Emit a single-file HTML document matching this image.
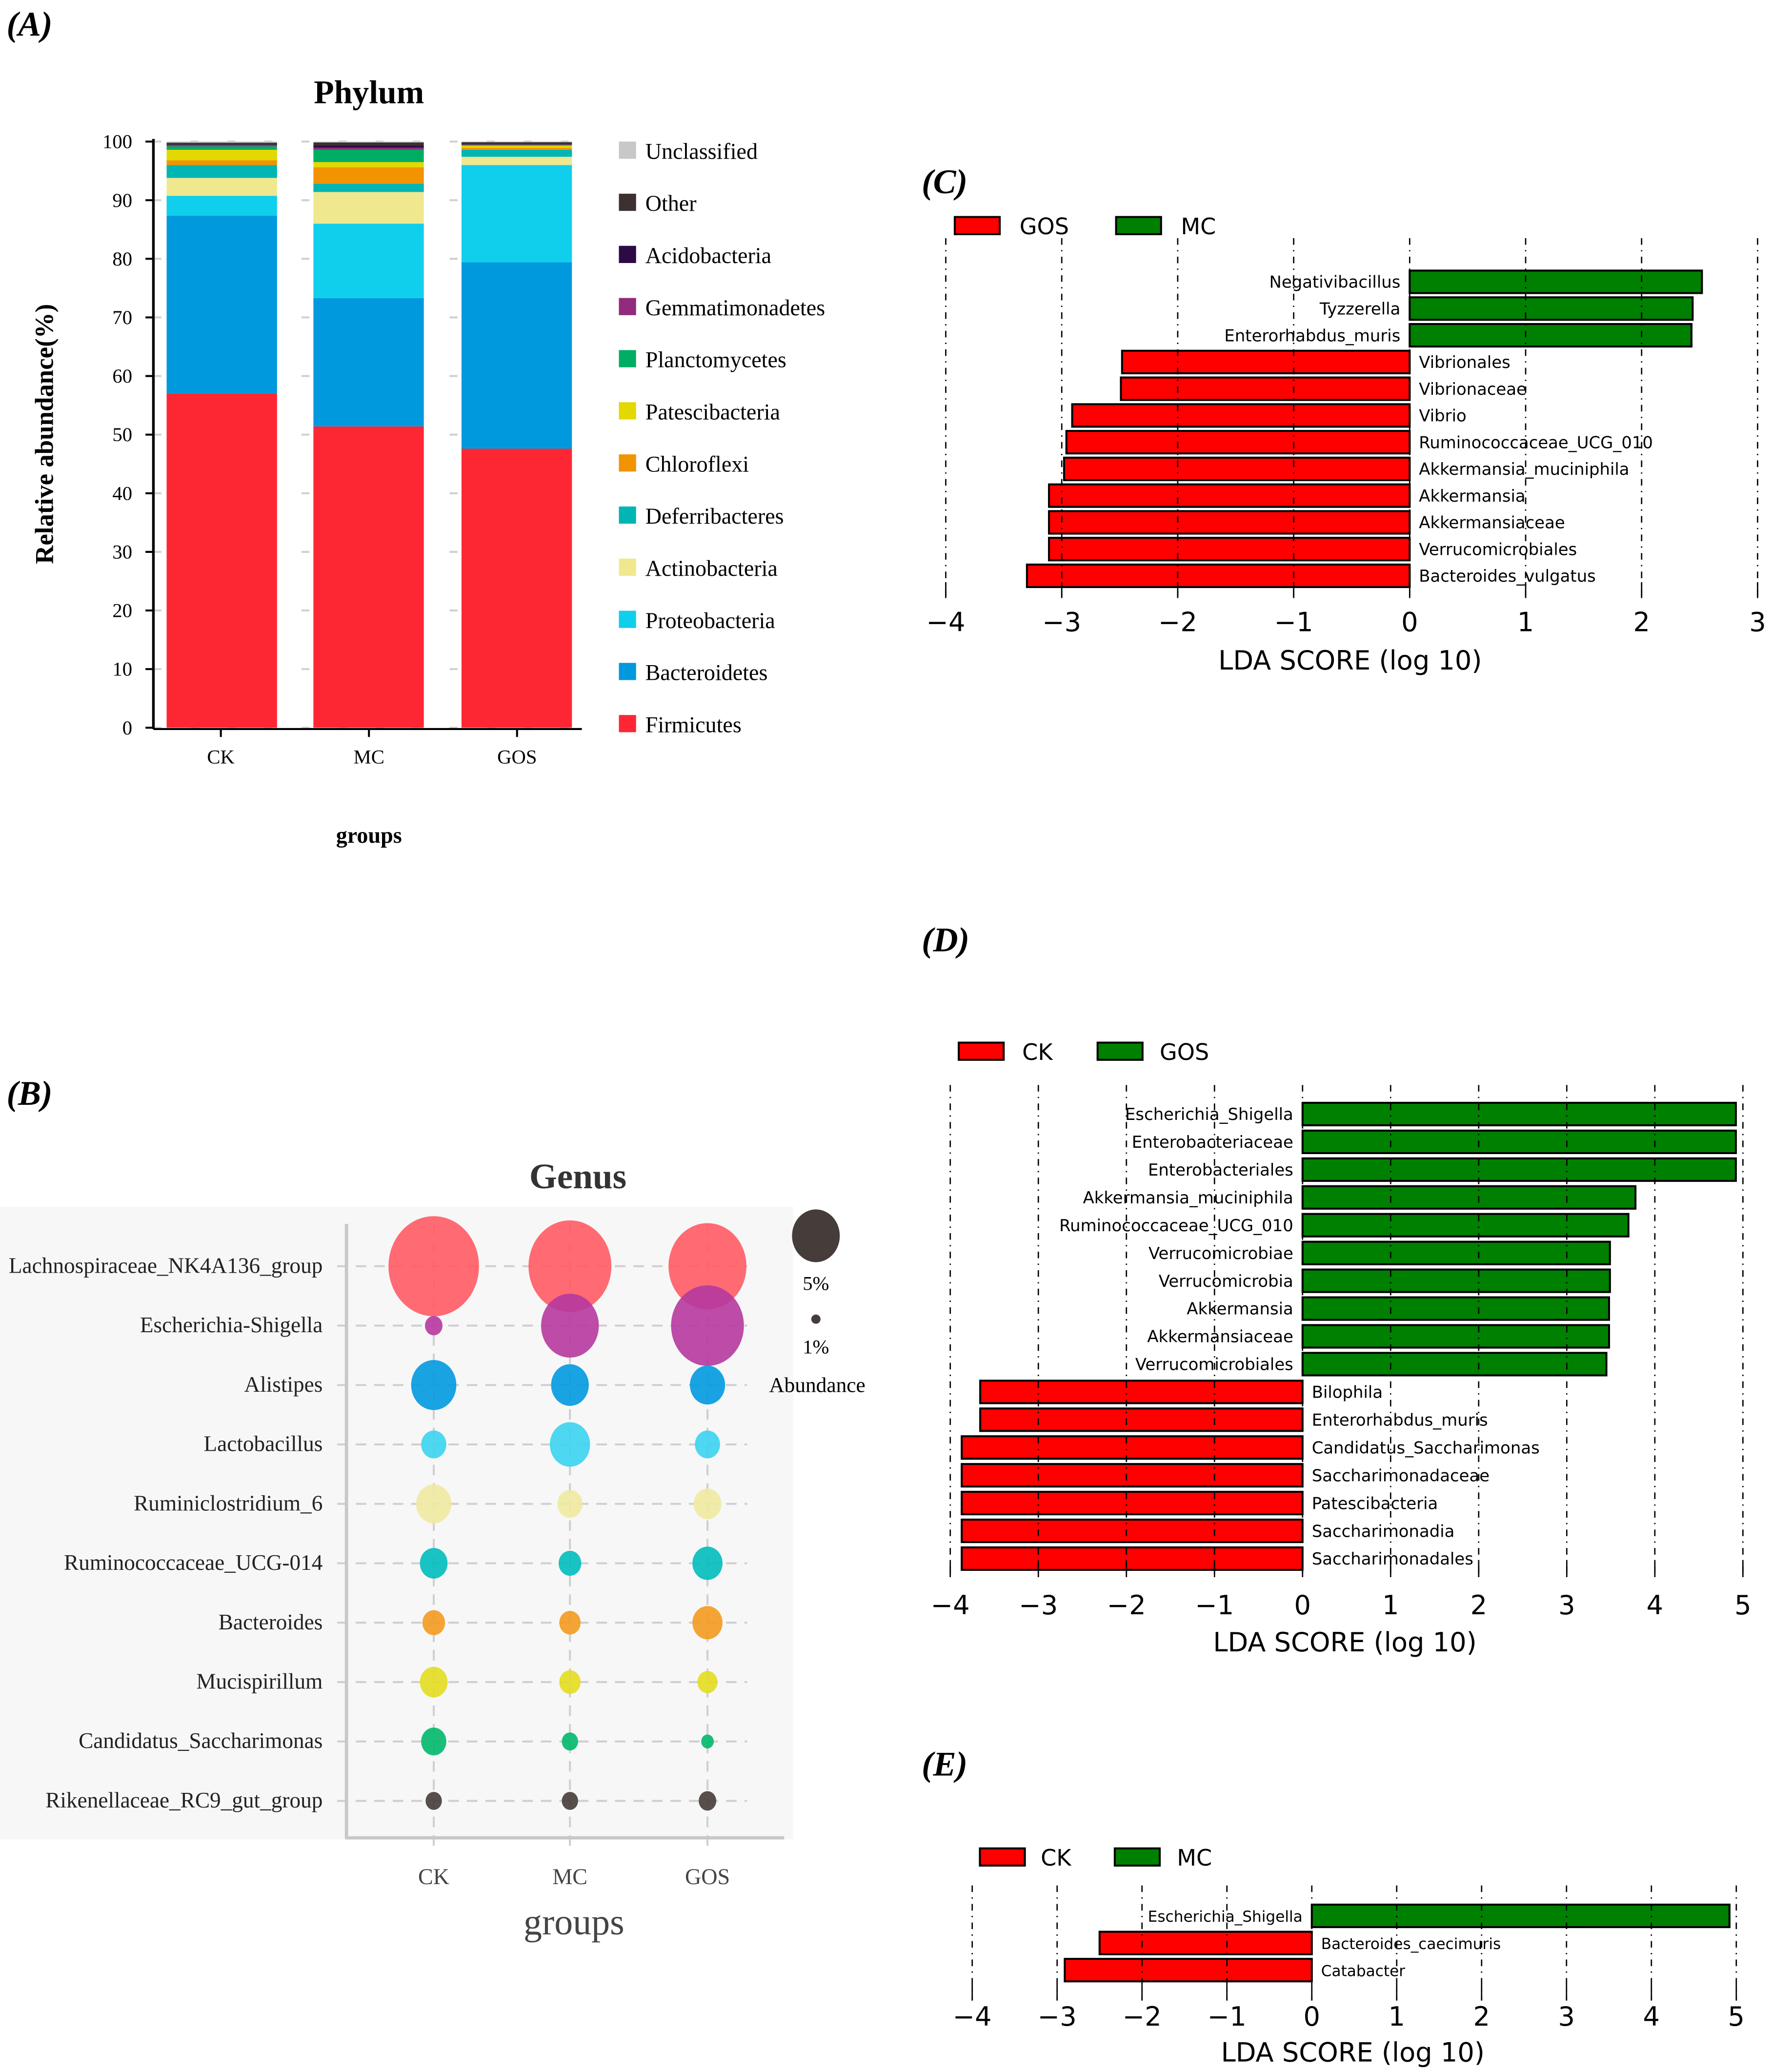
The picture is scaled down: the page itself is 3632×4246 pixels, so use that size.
<!DOCTYPE html>
<html><head><meta charset="utf-8"><style>
html,body{margin:0;padding:0;background:#fff;}
svg{display:block;}
.serif{font-family:"Liberation Serif","DejaVu Serif",serif;}
.sans{font-family:"DejaVu Sans","Liberation Sans",sans-serif;}
</style></head><body>
<svg id="fig" width="3632" height="4246" viewBox="0 0 1340 1566" preserveAspectRatio="none" xmlns="http://www.w3.org/2000/svg">
<rect width="1340" height="1566" fill="#fff"/>
<g id="pa"></g>
<g id="pb"></g>
<g id="pc"></g>
<g id="pd"></g>
<g id="pe"></g>
</svg>
<script>
// ---------- Panel A data ----------
const phylumGroups = ["CK","MC","GOS"];
const phylumNames = ["Firmicutes","Bacteroidetes","Proteobacteria","Actinobacteria","Deferribacteres","Chloroflexi","Patescibacteria","Planctomycetes","Gemmatimonadetes","Acidobacteria","Other","Unclassified"];
const phylumColors = ["#fd2734","#0099dd","#10cfec","#efe88f","#00b5b4","#f29300","#e3d800","#00ad64","#922a7d","#2d0a45","#3c3030","#c8c8c8"];
const phylumCK  = [57.0,30.35,3.4,3.05,2.2,0.8,1.8,0.6,0.2,0.1,0.3,0.2];
const phylumMC  = [51.4,21.9,12.7,5.4,1.4,2.8,0.9,2.1,0.35,0.35,0.55,0.15];
const phylumGOS = [47.6,31.8,16.6,1.4,1.2,0.35,0.35,0.1,0.05,0.05,0.4,0.1];
const phylumTicks = [0,10,20,30,40,50,60,70,80,90,100];

// ---------- Panel B data ----------
const genusNames = ["Lachnospiraceae_NK4A136_group","Escherichia-Shigella","Alistipes","Lactobacillus","Ruminiclostridium_6","Ruminococcaceae_UCG-014","Bacteroides","Mucispirillum","Candidatus_Saccharimonas","Rikenellaceae_RC9_gut_group"];
const genusColors = ["#ff5a64","#b5399e","#0099e0","#3ad3f0","#f0e9a0","#00bcbc","#f39a1e","#e3dc20","#00b86a","#463c3a"];
const genusGroups = ["CK","MC","GOS"];
const genusCK  = [9.39,1.90,4.74,2.68,3.71,2.94,2.42,2.94,2.68,1.77];
const genusMC  = [8.61,6.03,3.97,4.23,2.68,2.42,2.29,2.29,1.77,1.77];
const genusGOS = [8.10,7.58,3.71,2.68,2.94,3.19,3.19,2.16,1.39,1.90];

// ---------- Panel C/D/E data ----------
const ldaCNames = ["Negativibacillus","Tyzzerella","Enterorhabdus_muris","Vibrionales","Vibrionaceae","Vibrio","Ruminococcaceae_UCG_010","Akkermansia_muciniphila","Akkermansia","Akkermansiaceae","Verrucomicrobiales","Bacteroides_vulgatus"];
const ldaCValues = [2.52,2.44,2.43,-2.48,-2.49,-2.91,-2.96,-2.98,-3.11,-3.11,-3.11,-3.30];
const ldaCTicks = [-4,-3,-2,-1,0,1,2,3];
const ldaDNames = ["Escherichia_Shigella","Enterobacteriaceae","Enterobacteriales","Akkermansia_muciniphila","Ruminococcaceae_UCG_010","Verrucomicrobiae","Verrucomicrobia","Akkermansia","Akkermansiaceae","Verrucomicrobiales","Bilophila","Enterorhabdus_muris","Candidatus_Saccharimonas","Saccharimonadaceae","Patescibacteria","Saccharimonadia","Saccharimonadales"];
const ldaDValues = [4.92,4.92,4.92,3.78,3.70,3.49,3.49,3.48,3.48,3.45,-3.66,-3.66,-3.87,-3.87,-3.87,-3.87,-3.87];
const ldaDTicks = [-4,-3,-2,-1,0,1,2,3,4,5];
const ldaENames = ["Escherichia_Shigella","Bacteroides_caecimuris","Catabacter"];
const ldaEValues = [4.92,-2.50,-2.91];
const ldaETicks = [-4,-3,-2,-1,0,1,2,3,4,5];

const NS="http://www.w3.org/2000/svg";
function mk(parent,tag,attrs,text){
  const e=document.createElementNS(NS,tag);
  for(const k in attrs) e.setAttribute(k,attrs[k]);
  if(text!==undefined) e.textContent=text;
  parent.appendChild(e); return e;
}

// ===== Panel A =====
(function(){
  const g=document.getElementById('pa');
  const y0=550, y100=107, yS=v=>y0-(y0-y100)*v/100;
  const bx=[126,237,349], bw=83.5, cx=[167,279,391];
  let t=mk(g,'text',{x:5,y:27,'font-size':26,'font-weight':'bold','font-style':'italic',class:'serif'},'(A)');
   
  t=mk(g,'text',{x:279,y:78,'font-size':25,'font-weight':'bold','text-anchor':'middle',class:'serif'},'Phylum');
   
  phylumTicks.forEach(v=>{
    const l=mk(g,'line',{x1:116,x2:440,y1:yS(v),y2:yS(v),stroke:'#d0d0d0','stroke-width':1.5,'stroke-dasharray':'6 22'});
     
    const tk=mk(g,'line',{x1:110,x2:116,y1:yS(v),y2:yS(v),stroke:'#000','stroke-width':1.5});
     
    const lb=mk(g,'text',{x:100,y:yS(v)+5,'font-size':15,'text-anchor':'end',class:'serif'},String(v));
     
  });
  const ax=mk(g,'line',{x1:116,x2:116,y1:105,y2:551,stroke:'#000','stroke-width':2});
   
  const ax2=mk(g,'line',{x1:116,x2:440,y1:551,y2:551,stroke:'#000','stroke-width':1.5});
   
  const series=[phylumCK,phylumMC,phylumGOS];
  series.forEach((vals,gi)=>{
    let cum=0;
    vals.forEach((v,i)=>{
      const r=mk(g,'rect',{x:bx[gi],y:yS(cum+v),width:bw,height:yS(cum)-yS(cum+v),fill:phylumColors[i]});
      
      
      cum+=v;
    });
    const tk=mk(g,'line',{x1:cx[gi],x2:cx[gi],y1:551,y2:557,stroke:'#000','stroke-width':1.5});
     
    const lb=mk(g,'text',{x:cx[gi],y:577,'font-size':15,'text-anchor':'middle',class:'serif'},phylumGroups[gi]);
     
  });
  t=mk(g,'text',{x:0,y:0,'font-size':19.5,'font-weight':'bold','text-anchor':'middle',class:'serif',transform:'translate(40,328) rotate(-90)'},'Relative abundance(%)');
   
  t=mk(g,'text',{x:279,y:637,'font-size':17,'font-weight':'bold','text-anchor':'middle',class:'serif'},'groups');
   
  for(let k=0;k<phylumNames.length;k++){
    const i=phylumNames.length-1-k, y=114+k*39.4;
    const s=mk(g,'rect',{x:468,y:y-7,width:13,height:13,fill:phylumColors[i]});
     
    const lt=mk(g,'text',{x:488,y:y+6,'font-size':17,class:'serif'},phylumNames[i]);
     
  }
})();

// ===== Panel B =====
(function(){
  const g=document.getElementById('pb');
  const bg=mk(g,'rect',{x:0,y:912,width:600,height:478,fill:'#f7f7f7'});
   
  let t=mk(g,'text',{x:5,y:835,'font-size':26,'font-weight':'bold','font-style':'italic',class:'serif'},'(B)');
   
  t=mk(g,'text',{x:437,y:898,'font-size':27,'font-weight':'bold','text-anchor':'middle',class:'serif',fill:'#333'},'Genus');
   
  const colX=[328,431,535], rowY=i=>957+i*44.9;
  const rS=a=>3.5+(a-1)*15.5/4;
  genusNames.forEach((n,i)=>{
    const l=mk(g,'line',{x1:255,x2:565,y1:rowY(i),y2:rowY(i),stroke:'#cfcfcf','stroke-width':1.5,'stroke-dasharray':'8 6'});
     
    const lb=mk(g,'text',{x:244,y:rowY(i)+5,'font-size':16.7,'text-anchor':'end',class:'serif',fill:'#222'},n);
     
  });
  colX.forEach((x,j)=>{
    const l=mk(g,'line',{x1:x,x2:x,y1:925,y2:1395,stroke:'#cfcfcf','stroke-width':1.5,'stroke-dasharray':'8 6'});
     
    const lb=mk(g,'text',{x:x,y:1424,'font-size':17,'text-anchor':'middle',class:'serif',fill:'#444'},genusGroups[j]);
     
  });
  const a1=mk(g,'line',{x1:262,x2:262,y1:925,y2:1389,stroke:'#c8c8c8','stroke-width':2.5});
   
  const a2=mk(g,'line',{x1:261,x2:593,y1:1389,y2:1389,stroke:'#c8c8c8','stroke-width':2.5});
   
  [genusCK,genusMC,genusGOS].forEach((vals,j)=>{
    vals.forEach((v,i)=>{
      const r=rS(v);
      const c=mk(g,'ellipse',{cx:colX[j],cy:rowY(i),rx:r*0.95,ry:r*1.05,fill:genusColors[i],'fill-opacity':0.9});
      
      
    });
  });
  t=mk(g,'text',{x:434,y:1462,'font-size':28,'text-anchor':'middle',class:'serif',fill:'#444'},'groups');
   
  let c=mk(g,'ellipse',{cx:617,cy:934,rx:rS(5)*0.95,ry:rS(5)*1.05,fill:'#463c3a'});
   
  t=mk(g,'text',{x:617,y:975,'font-size':15,'text-anchor':'middle',class:'serif'},'5%');
   
  c=mk(g,'circle',{cx:617,cy:997,r:rS(1),fill:'#463c3a'});
   
  t=mk(g,'text',{x:617,y:1023,'font-size':15,'text-anchor':'middle',class:'serif'},'1%');
   
  t=mk(g,'text',{x:618,y:1052,'font-size':16,'text-anchor':'middle',class:'serif'},'Abundance');
   
})();

// ===== LDA panels =====
function lda(id,opt,names,values,ticks){
  const g=document.getElementById(id);
  const xS=v=>opt.x0+v*opt.unit;
  let t=mk(g,'text',{x:697,y:opt.labelY,'font-size':26,'font-weight':'bold','font-style':'italic',class:'serif'},opt.label);
   
  const s1=mk(g,'rect',{x:opt.leg[0],y:opt.legY-7,width:34,height:13,fill:'#ff0000',stroke:'#000','stroke-width':1.5});
   
  t=mk(g,'text',{x:opt.leg[1],y:opt.legY+6,'font-size':17,class:'sans'},opt.names[0]);
   
  const s2=mk(g,'rect',{x:opt.leg[2],y:opt.legY-7,width:34,height:13,fill:'#008000',stroke:'#000','stroke-width':1.5});
   
  t=mk(g,'text',{x:opt.leg[3],y:opt.legY+6,'font-size':17,class:'sans'},opt.names[1]);
   
  const rowY=i=>opt.row0+i*opt.step;
  names.forEach((n,i)=>{
    const v=values[i], y=rowY(i);
    const x1=Math.min(xS(0),xS(v)), w=Math.abs(xS(v)-xS(0));
    const r=mk(g,'rect',{x:x1,y:y-opt.bh/2,width:w,height:opt.bh,fill:v>=0?'#008000':'#ff0000',stroke:'#000','stroke-width':1.5});
     
    const lb=mk(g,'text',{x:v>=0?xS(0)-7:xS(0)+7,y:y+4.5,'font-size':opt.fs,'text-anchor':v>=0?'end':'start',class:'sans'},n);
     
  });
  ticks.forEach(v=>{
    const l=mk(g,'line',{x1:xS(v),x2:xS(v),y1:opt.gTop,y2:opt.gBot,stroke:'#000','stroke-width':1,'stroke-dasharray':'5 4 1 4'});
     
    const tk=mk(g,'line',{x1:xS(v),x2:xS(v),y1:opt.gBot-12,y2:opt.gBot,stroke:'#000','stroke-width':1});
     
    const lb=mk(g,'text',{x:xS(v),y:opt.tickY,'font-size':20,'text-anchor':'middle',class:'sans'},v<0?'\u2212'+Math.abs(v):String(v));
     
  });
  t=mk(g,'text',{x:opt.titleX,y:opt.titleY,'font-size':20,'text-anchor':'middle',class:'sans'},'LDA SCORE (log 10)');
   
}
lda('pc',{x0:1066,unit:87.7,label:'(C)',labelY:146,names:['GOS','MC'],leg:[722,771,844,893],legY:171,row0:213,step:20.2,bh:17,fs:12.5,gTop:180,gBot:452,tickY:477,titleX:1021,titleY:506},ldaCNames,ldaCValues,ldaCTicks);
lda('pd',{x0:985,unit:66.6,label:'(D)',labelY:719,names:['CK','GOS'],leg:[725,773,830,877],legY:795,row0:842,step:21.0,bh:17,fs:12.5,gTop:820,gBot:1192,tickY:1220,titleX:1017,titleY:1248},ldaDNames,ldaDValues,ldaDTicks);
lda('pe',{x0:992,unit:64.2,label:'(E)',labelY:1342,names:['CK','MC'],leg:[741,787,843,890],legY:1404,row0:1448,step:20.5,bh:17,fs:11.5,gTop:1425,gBot:1512,tickY:1531,titleX:1023,titleY:1558},ldaENames,ldaEValues,ldaETicks);
</script>
</body></html>
